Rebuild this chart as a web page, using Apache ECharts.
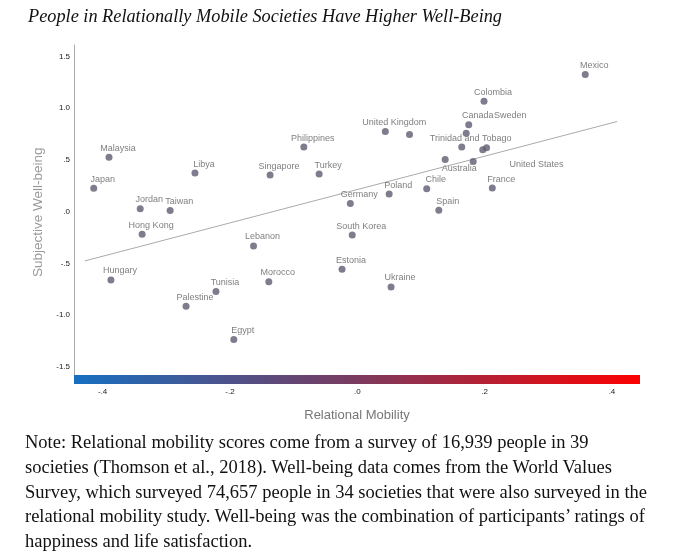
<!DOCTYPE html>
<html>
<head>
<meta charset="utf-8">
<script src="https://cdn.jsdelivr.net/npm/echarts@6/dist/echarts.min.js"></script>
<style>
  html, body { margin: 0; padding: 0; background: #fff; }
  #wrap { position: relative; width: 680px; height: 552px; overflow: hidden; }
  #chart { position: absolute; left: 0; top: 0; width: 680px; height: 552px; }
  #note {
    position: absolute; left: 25px; top: 430px; width: 655px;
    font-family: "Liberation Serif", "Times New Roman", serif;
    font-size: 18.5px; line-height: 24.8px; color: #111; white-space: nowrap;
  }
</style>
</head>
<body>
<div id="wrap">
  <div id="chart"></div>
  <div id="note">Note: Relational mobility scores come from a survey of 16,939 people in 39<br>societies (Thomson et al., 2018). Well-being data comes from the World Values<br>Survey, which surveyed 74,657 people in 34 societies that were also surveyed in the<br>relational mobility study. Well-being was the combination of participants’ ratings of<br>happiness and life satisfaction.</div>
</div>
<script>
// societies (three dots carry no label in the original)
const countries = [
  "Mexico", "Colombia", "Canada", "Sweden", "Trinidad and Tobago", "",
  "United States", "Australia", "", "France", "Chile", "Poland", "Germany",
  "Spain", "United Kingdom", "", "Philippines", "Turkey", "Singapore", "Libya",
  "Malaysia", "Japan", "Jordan", "Taiwan", "Hong Kong", "South Korea",
  "Lebanon", "Estonia", "Hungary", "Morocco", "Tunisia", "Ukraine",
  "Palestine", "Egypt"
];
const mobility = [
  0.358, 0.199, 0.175, 0.171, 0.164, 0.197,
  0.203, 0.138, 0.182, 0.212, 0.109, 0.050, -0.011,
  0.128, 0.044, 0.082, -0.084, -0.060, -0.137, -0.255,
  -0.390, -0.414, -0.341, -0.294, -0.338, -0.008,
  -0.163, -0.024, -0.387, -0.139, -0.222, 0.053,
  -0.269, -0.194
];
const wellBeing = [
  1.325, 1.067, 0.839, 0.759, 0.624, 0.598,
  0.617, 0.505, 0.486, 0.229, 0.222, 0.171, 0.079,
  0.014, 0.775, 0.746, 0.624, 0.364, 0.354, 0.373,
  0.525, 0.226, 0.029, 0.013, -0.218, -0.225,
  -0.331, -0.556, -0.659, -0.675, -0.771, -0.726,
  -0.912, -1.234
];
// fitted line end points
const fitX = [-0.428, 0.408];
const fitY = [-0.475, 0.871];
const xTicks = [-0.4, -0.2, 0, 0.2, 0.4];
const yTicks = [-1.5, -1, -0.5, 0, 0.5, 1, 1.5];

// labels moved off the default spot in the original
const labelNudge = {
  "Sweden": [44, -9],
  "Australia": [14, 18],
  "United States": [50, 26]
};

const fmt = v => {
  let s = Number(v).toFixed(1);
  if (Math.abs(v) < 1) s = s.replace("0.", ".");
  return s;
};

const points = countries.map((name, i) => {
  const item = { name, value: [mobility[i], wellBeing[i]] };
  if (!name) item.label = { show: false };
  else if (labelNudge[name]) item.label = { offset: labelNudge[name] };
  return item;
});

const chart = echarts.init(document.getElementById("chart"), null, { renderer: "canvas" });
chart.setOption({
  animation: false,
  title: {
    text: "People in Relationally Mobile Societies Have Higher Well-Being",
    left: 23, top: 3,
    textStyle: {
      fontFamily: "Liberation Serif", fontStyle: "italic", fontWeight: "normal",
      fontSize: 18.3, color: "#111"
    }
  },
  grid: { left: 74, right: 40, top: 45, bottom: 172.5 },
  xAxis: {
    type: "value", min: -0.445, max: 0.444,
    name: "Relational Mobility", nameLocation: "middle", nameGap: 29,
    nameTextStyle: { fontFamily: "Liberation Sans", fontSize: 13, color: "#777" },
    axisLine: {
      show: true, onZero: false,
      lineStyle: {
        width: 9, cap: "butt",
        color: new echarts.graphic.LinearGradient(0, 0, 1, 0, [
          { offset: 0, color: "#1570c2" },
          { offset: 0.5, color: "#7b3a5e" },
          { offset: 1, color: "#ff0000" }
        ])
      }
    },
    axisTick: { show: false },
    splitLine: { show: false },
    axisLabel: {
      customValues: xTicks, margin: 8,
      fontFamily: "Liberation Sans", fontSize: 8, color: "#222",
      formatter: v => fmt(v)
    }
  },
  yAxis: {
    type: "value", min: -1.62, max: 1.61,
    name: "Subjective Well-being", nameLocation: "middle", nameGap: 22,
    nameTextStyle: { fontFamily: "Liberation Sans", fontSize: 13.5, color: "#999" },
    axisLine: { show: true, onZero: false, lineStyle: { color: "#aaa", width: 1 } },
    axisTick: { show: false },
    splitLine: { show: false },
    axisLabel: {
      customValues: yTicks, margin: 4,
      fontFamily: "Liberation Sans", fontSize: 8, color: "#222",
      formatter: v => fmt(v)
    }
  },
  series: [
    {
      type: "line",
      data: fitX.map((x, i) => [x, fitY[i]]),
      showSymbol: false, symbol: "none", silent: true,
      lineStyle: { color: "#aaa", width: 1 },
      z: 1
    },
    {
      type: "scatter",
      data: points,
      symbolSize: 7,
      itemStyle: { color: "#5f5d70" },
      label: {
        show: true, position: "top", distance: 1, offset: [9, 0],
        formatter: p => p.name,
        fontFamily: "Liberation Sans", fontSize: 9, color: "#5e5e5e"
      },
      z: 3
    }
  ]
});
</script>
</body>
</html>
